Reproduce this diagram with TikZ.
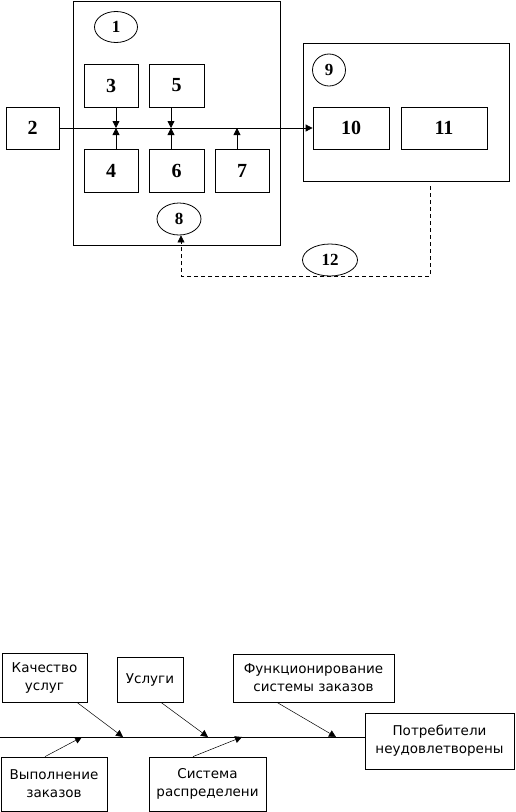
\documentclass[tikz,border=0pt]{standalone}
\usepackage{fontspec}
\setmainfont{Liberation Serif}
\newfontfamily\rufont{DejaVu Sans}
\usetikzlibrary{shapes.geometric,arrows.meta,positioning}

\begin{document}
\begin{tikzpicture}[x=1pt,y=-1pt,line width=0.8pt,
		blk/.style={draw, rectangle, inner sep=0pt, font=\fontsize{20}{22}\selectfont\bfseries},
		oval/.style={draw, ellipse, inner sep=0pt, font=\fontsize{17}{19}\selectfont\bfseries},
		cause/.style={draw, rectangle, inner sep=0pt, align=center, font=\rufont\fontsize{13.5}{18}\selectfont},
		tip/.style={-{Triangle[length=7pt,width=7pt]}},
		thin/.style={line width=0.5pt}]
	\useasboundingbox (0,0) rectangle (515,812);
	
	% 1. 上方的系统框图
	% 大框 1 与 9
	\node [blk, minimum width=207pt, minimum height=244pt] (n1) at (176.5,123) {};
	\node [blk, minimum width=206pt, minimum height=138pt] (n9) at (406,112) {};
	
	% 椭圆编号
	\node [oval, minimum width=43pt, minimum height=31pt] (e1) at (116,27) {1};
	\node [oval, minimum width=44pt, minimum height=32pt] (e8) at (179,219) {8};
	\node [oval, minimum width=33pt, minimum height=32pt] (e9) at (329,70) {9};
	\node [oval, minimum width=55pt, minimum height=32pt] (e12) at (330,260) {12};
	
	% 小方框
	\node [blk, minimum width=53pt, minimum height=42pt] (b2) at (32.5,128) {2};
	\node [blk, minimum width=54pt, minimum height=43pt] (b3) at (111,85.5) {3};
	\node [blk, minimum width=55pt, minimum height=43pt] (b5) at (176.5,85.5) {5};
	\node [blk, minimum width=54pt, minimum height=43pt] (b4) at (111,170.5) {4};
	\node [blk, minimum width=55pt, minimum height=43pt] (b6) at (176.5,170.5) {6};
	\node [blk, minimum width=54pt, minimum height=43pt] (b7) at (242,170.5) {7};
	\node [blk, minimum width=76pt, minimum height=42pt] (b10) at (351,128) {10};
	\node [blk, minimum width=86pt, minimum height=42pt] (b11) at (444,128) {11};
	
	% 2. 主线与汇入点
	\coordinate (m3) at (116,128);
	\coordinate (m5) at (171,128);
	\coordinate (m7) at (237,128);
	\draw [tip] (b2.east) -- (b10.west);
	\draw [tip] (b3.south -| m3) -- (m3);
	\draw [tip] (b5.south -| m5) -- (m5);
	\draw [tip] (b4.north -| m3) -- (m3);
	\draw [tip] (b6.north -| m5) -- (m5);
	\draw [tip] (b7.north -| m7) -- (m7);
	
	% 3. 虚线反馈回路
	\coordinate (r1) at (430,276);
	\coordinate (r2) at (181,276);
	\draw [tip, dashed, dash pattern=on 4pt off 3pt, thin] (430,186) -- (r1) -- (r2) -- (r2 |- e8.south);
	
	% 4. 下方的鱼骨图
	\node [cause, minimum width=85pt, minimum height=49pt] (q1) at (44.5,677.5) {Качество\\услуг};
	\node [cause, minimum width=66pt, minimum height=45pt] (q2) at (150,679.5) {Услуги};
	\node [cause, minimum width=161pt, minimum height=48pt] (q3) at (313.5,678) {Функционирование\\системы заказов};
	\node [cause, minimum width=106pt, minimum height=54pt] (q4) at (54,784) {Выполнение\\заказов};
	\node [cause, minimum width=117pt, minimum height=54pt] (q5) at (207.5,784) {Система\\распределени};
	\node [cause, minimum width=149pt, minimum height=56pt] (q6) at (439.5,741) {Потребители\\неудовлетворены};
	
	% 骨干线
	\coordinate (s0) at (0,737);
	\draw (s0) -- (q6.west |- s0);
	
	% 分支箭头
	\coordinate (s1) at (123,737);
	\coordinate (s2) at (208,737);
	\coordinate (s3) at (336,737);
	\coordinate (s4) at (82,737);
	\coordinate (s5) at (242,737);
	\draw [tip, thin] ([xshift=32.5pt]q1.south) -- (s1);
	\draw [tip, thin] ([xshift=11pt]q2.south) -- (s2);
	\draw [tip, thin] ([xshift=-36.5pt]q3.south) -- (s3);
	\draw [tip, thin] ([xshift=-9pt]q4.north) -- (s4);
	\draw [tip, thin] ([xshift=-14.5pt]q5.north) -- (s5);
\end{tikzpicture}
\end{document}
